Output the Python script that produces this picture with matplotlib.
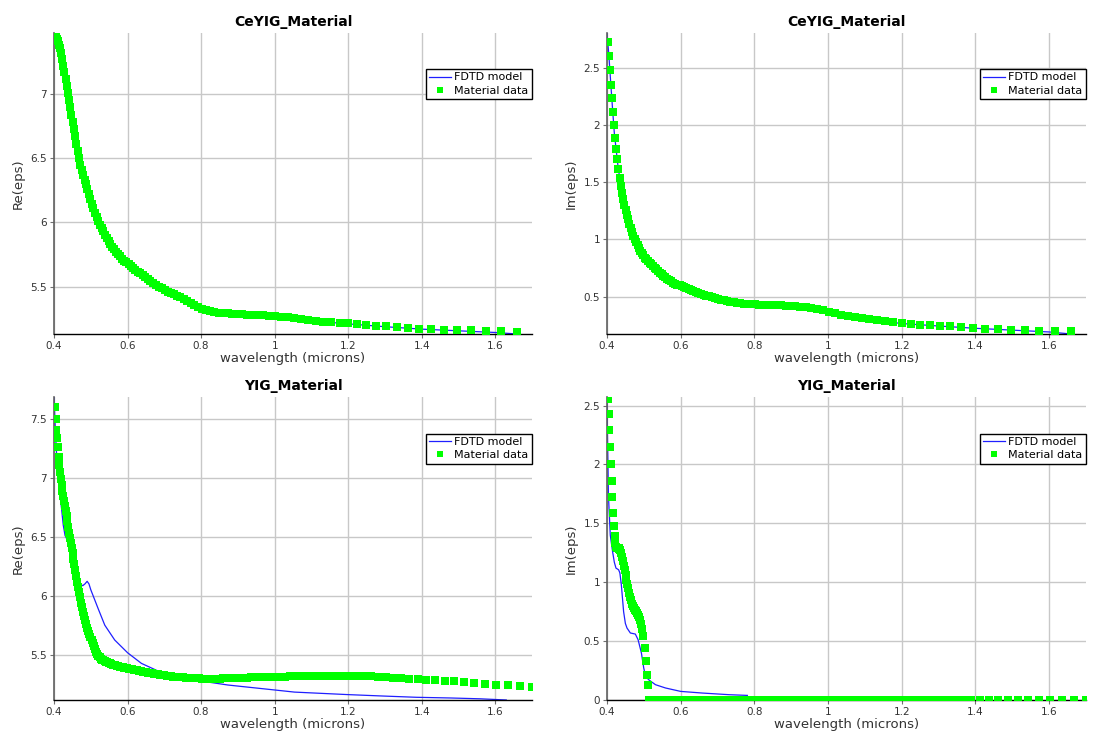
import matplotlib
matplotlib.use("Agg")
import matplotlib.pyplot as plt
from matplotlib.ticker import FuncFormatter

# ---------------- CeYIG material data (wavelength in microns) ----------------
wl_ceyig = [
    0.4027, 0.4054, 0.4081, 0.4108, 0.4137, 0.4165, 0.4194, 0.4223, 0.4253, 0.4283,
    0.4313, 0.4344, 0.4375, 0.4407, 0.4440, 0.4472, 0.4506, 0.4539, 0.4574, 0.4608,
    0.4644, 0.4679, 0.4716, 0.4753, 0.4790, 0.4829, 0.4867, 0.4907, 0.4947, 0.4988,
    0.5029, 0.5071, 0.5114, 0.5157, 0.5202, 0.5247, 0.5292, 0.5339, 0.5387, 0.5435,
    0.5484, 0.5534, 0.5585, 0.5637, 0.5690, 0.5744, 0.5799, 0.5855, 0.5912, 0.5970,
    0.6030, 0.6090, 0.6152, 0.6215, 0.6279, 0.6345, 0.6412, 0.6481, 0.6551, 0.6623,
    0.6696, 0.6770, 0.6847, 0.6925, 0.7005, 0.7087, 0.7171, 0.7257, 0.7345, 0.7435,
    0.7527, 0.7622, 0.7719, 0.7819, 0.7921, 0.8026, 0.8133, 0.8244, 0.8358, 0.8475,
    0.8595, 0.8718, 0.8846, 0.8977, 0.9112, 0.9251, 0.9394, 0.9542, 0.9695, 0.9852,
    1.0015, 1.0183, 1.0357, 1.0537, 1.0724, 1.0917, 1.1117, 1.1325, 1.1541, 1.1765,
    1.1998, 1.2240, 1.2492, 1.2755, 1.3029, 1.3316, 1.3615, 1.3928, 1.4255, 1.4599,
    1.4959, 1.5337, 1.5736, 1.6155, 1.6598,
]
re_ceyig = [
    7.47, 7.45, 7.43, 7.41, 7.38, 7.355, 7.32, 7.27, 7.22, 7.17,
    7.12, 7.065, 7.01, 6.955, 6.895, 6.84, 6.785, 6.73, 6.67, 6.61,
    6.555, 6.50, 6.45, 6.41, 6.37, 6.33, 6.295, 6.257, 6.22, 6.18,
    6.145, 6.11, 6.075, 6.04, 6.01, 5.98, 5.955, 5.93, 5.905, 5.88,
    5.855, 5.83, 5.81, 5.79, 5.77, 5.75, 5.735, 5.715, 5.70, 5.69,
    5.675, 5.66, 5.645, 5.63, 5.615, 5.605, 5.59, 5.575, 5.56, 5.545,
    5.53, 5.515, 5.50, 5.49, 5.475, 5.46, 5.45, 5.44, 5.43, 5.415,
    5.40, 5.385, 5.37, 5.355, 5.34, 5.328, 5.318, 5.31, 5.302, 5.296,
    5.292, 5.29, 5.287, 5.285, 5.283, 5.282, 5.28, 5.279, 5.277, 5.274,
    5.27, 5.266, 5.262, 5.256, 5.248, 5.24, 5.233, 5.227, 5.222, 5.217,
    5.212, 5.207, 5.202, 5.196, 5.19, 5.184, 5.178, 5.172, 5.168, 5.164,
    5.161, 5.158, 5.155, 5.151, 5.148,
]
im_ceyig = [
    2.73, 2.605, 2.48, 2.355, 2.235, 2.115, 2.00, 1.89, 1.795, 1.70,
    1.62, 1.54, 1.47, 1.41, 1.35, 1.30, 1.255, 1.215, 1.175, 1.135,
    1.10, 1.065, 1.03, 1.00, 0.975, 0.95, 0.925, 0.90, 0.88, 0.86,
    0.84, 0.825, 0.81, 0.797, 0.783, 0.768, 0.753, 0.738, 0.723, 0.709,
    0.695, 0.682, 0.669, 0.656, 0.644, 0.632, 0.621, 0.612, 0.604, 0.597,
    0.59, 0.582, 0.574, 0.566, 0.558, 0.55, 0.541, 0.533, 0.524, 0.516,
    0.508, 0.501, 0.494, 0.487, 0.48, 0.473, 0.467, 0.461, 0.455, 0.45,
    0.445, 0.441, 0.438, 0.435, 0.433, 0.431, 0.429, 0.428, 0.427, 0.426,
    0.425, 0.424, 0.421, 0.418, 0.414, 0.41, 0.405, 0.398, 0.389, 0.378,
    0.366, 0.353, 0.342, 0.333, 0.323, 0.313, 0.303, 0.294, 0.284, 0.274,
    0.266, 0.259, 0.254, 0.249, 0.244, 0.238, 0.232, 0.225, 0.22, 0.215,
    0.211, 0.207, 0.202, 0.199, 0.197,
]

# FDTD fit of CeYIG
wl_fit_ceyig = [0.400, 0.405, 0.410, 0.415, 0.420, 0.430, 0.440, 0.450, 0.460, 0.470,
                0.480, 0.490, 0.500, 0.520, 0.540, 0.560, 0.580, 0.600, 0.625, 0.650,
                0.675, 0.700, 0.750, 0.800, 0.850, 0.900, 0.950, 1.000, 1.050, 1.100,
                1.150, 1.200, 1.300, 1.400, 1.500, 1.600, 1.660]
re_fit_ceyig = [7.475, 7.445, 7.42, 7.37, 7.30, 7.14, 6.965, 6.795, 6.625, 6.47,
                6.36, 6.265, 6.17, 6.01, 5.90, 5.805, 5.735, 5.685, 5.62, 5.57,
                5.52, 5.475, 5.405, 5.33, 5.294, 5.284, 5.279, 5.27, 5.255, 5.236,
                5.221, 5.209, 5.187, 5.168, 5.155, 5.142, 5.13]
im_fit_ceyig = [2.806, 2.62, 2.38, 2.15, 1.93, 1.64, 1.415, 1.245, 1.14, 1.04,
                0.968, 0.90, 0.855, 0.783, 0.721, 0.665, 0.621, 0.594, 0.561, 0.531,
                0.503, 0.48, 0.446, 0.431, 0.426, 0.417, 0.399, 0.366, 0.334, 0.308,
                0.283, 0.264, 0.242, 0.222, 0.206, 0.19, 0.172]

# ---------------- YIG material data ----------------
wl_yig = [
    0.4026, 0.4045, 0.4065, 0.4085, 0.4105, 0.4125, 0.4146, 0.4167, 0.4188, 0.4209,
    0.4230, 0.4252, 0.4274, 0.4296, 0.4318, 0.4340, 0.4363, 0.4386, 0.4409, 0.4433,
    0.4456, 0.4480, 0.4505, 0.4529, 0.4554, 0.4579, 0.4604, 0.4630, 0.4655, 0.4682,
    0.4708, 0.4735, 0.4762, 0.4789, 0.4817, 0.4845, 0.4873, 0.4902, 0.4931, 0.4960,
    0.4990, 0.5020, 0.5051, 0.5081, 0.5112, 0.5144, 0.5176, 0.5208, 0.5241, 0.5274,
    0.5308, 0.5342, 0.5376, 0.5411, 0.5447, 0.5482, 0.5519, 0.5556, 0.5593, 0.5631,
    0.5669, 0.5708, 0.5747, 0.5787, 0.5828, 0.5869, 0.5910, 0.5952, 0.5995, 0.6039,
    0.6083, 0.6127, 0.6173, 0.6219, 0.6266, 0.6313, 0.6361, 0.6410, 0.6460, 0.6510,
    0.6562, 0.6614, 0.6667, 0.6720, 0.6775, 0.6831, 0.6887, 0.6944, 0.7003, 0.7062,
    0.7123, 0.7184, 0.7246, 0.7310, 0.7375, 0.7440, 0.7508, 0.7576, 0.7645, 0.7716,
    0.7788, 0.7862, 0.7937, 0.8013, 0.8091, 0.8170, 0.8251, 0.8333, 0.8418, 0.8503,
    0.8591, 0.8681, 0.8772, 0.8865, 0.8961, 0.9058, 0.9158, 0.9259, 0.9363, 0.9470,
    0.9579, 0.9690, 0.9804, 0.9921, 1.0040, 1.0163, 1.0288, 1.0417, 1.0549, 1.0684,
    1.0823, 1.0965, 1.1111, 1.1261, 1.1416, 1.1574, 1.1737, 1.1905, 1.2077, 1.2255,
    1.2438, 1.2626, 1.2821, 1.3021, 1.3228, 1.3441, 1.3661, 1.3889, 1.4124, 1.4368,
    1.4620, 1.4881, 1.5152, 1.5432, 1.5723, 1.6026, 1.6340, 1.6667, 1.7007, 1.7361,
]
re_yig = [
    7.60, 7.50, 7.41, 7.34, 7.26, 7.18, 7.11, 7.05, 6.99, 6.94,
    6.89, 6.845, 6.80, 6.76, 6.72, 6.675, 6.63, 6.58, 6.53, 6.49,
    6.45, 6.405, 6.36, 6.315, 6.27, 6.22, 6.17, 6.12, 6.075, 6.03,
    5.985, 5.94, 5.90, 5.86, 5.825, 5.79, 5.76, 5.73, 5.70, 5.675,
    5.65, 5.625, 5.60, 5.575, 5.55, 5.525, 5.505, 5.49, 5.477, 5.467,
    5.458, 5.451, 5.445, 5.44, 5.435, 5.43, 5.425, 5.42, 5.416, 5.412,
    5.408, 5.404, 5.40, 5.397, 5.394, 5.391, 5.388, 5.386, 5.384, 5.381,
    5.378, 5.375, 5.372, 5.369, 5.366, 5.363, 5.36, 5.356, 5.353, 5.35,
    5.347, 5.344, 5.341, 5.338, 5.335, 5.332, 5.329, 5.326, 5.323, 5.321,
    5.318, 5.316, 5.314, 5.312, 5.31, 5.308, 5.306, 5.304, 5.303, 5.301,
    5.30, 5.299, 5.298, 5.297, 5.296, 5.295, 5.295, 5.295, 5.296, 5.297,
    5.298, 5.299, 5.30, 5.301, 5.302, 5.303, 5.304, 5.305, 5.306, 5.307,
    5.308, 5.309, 5.31, 5.311, 5.312, 5.313, 5.314, 5.315, 5.316, 5.317,
    5.318, 5.319, 5.32, 5.321, 5.322, 5.322, 5.322, 5.322, 5.321, 5.32,
    5.318, 5.316, 5.313, 5.309, 5.305, 5.301, 5.297, 5.292, 5.288, 5.283,
    5.278, 5.272, 5.266, 5.26, 5.252, 5.246, 5.24, 5.232, 5.222, 5.21,
]
im_yig = [
    2.56, 2.43, 2.29, 2.15, 2.00, 1.86, 1.72, 1.59, 1.48, 1.39,
    1.33, 1.30, 1.295, 1.29, 1.287, 1.28, 1.27, 1.245, 1.215, 1.18,
    1.14, 1.10, 1.06, 1.02, 0.985, 0.95, 0.91, 0.875, 0.845, 0.815,
    0.795, 0.778, 0.765, 0.752, 0.74, 0.725, 0.705, 0.68, 0.645, 0.60,
    0.54, 0.44, 0.33, 0.21, 0.13,
    0, 0, 0, 0, 0, 0, 0, 0, 0, 0, 0, 0, 0, 0, 0, 0, 0, 0, 0, 0, 0, 0, 0,
    0, 0, 0, 0, 0, 0, 0, 0, 0, 0, 0, 0, 0, 0, 0, 0, 0, 0, 0, 0, 0, 0, 0,
    0, 0, 0, 0, 0, 0, 0, 0, 0, 0, 0, 0, 0, 0, 0, 0, 0, 0, 0, 0, 0, 0, 0,
    0, 0, 0, 0, 0, 0, 0, 0, 0, 0, 0, 0, 0, 0, 0, 0, 0, 0, 0, 0, 0, 0, 0,
    0, 0, 0, 0, 0, 0, 0, 0, 0, 0, 0, 0, 0, 0, 0, 0, 0, 0, 0, 0, 0, 0, 0,
]

# FDTD fit of YIG
wl_fit_yig_re = [0.400, 0.403, 0.406, 0.410, 0.415, 0.420, 0.425, 0.430, 0.435, 0.440,
                 0.450, 0.460, 0.470, 0.478, 0.484, 0.490, 0.495, 0.500, 0.510, 0.520,
                 0.538, 0.565, 0.600, 0.6375, 0.687, 0.737, 0.800, 0.873, 1.000, 1.054,
                 1.197, 1.300, 1.385, 1.479, 1.560, 1.630]
re_fit_yig = [7.684, 7.45, 7.25, 7.05, 6.88, 6.75, 6.60, 6.51, 6.48, 6.43,
              6.33, 6.20, 6.10, 6.085, 6.10, 6.122, 6.10, 6.05, 5.97, 5.89,
              5.75, 5.624, 5.516, 5.426, 5.355, 5.313, 5.276, 5.242, 5.200, 5.182,
              5.161, 5.148, 5.138, 5.132, 5.125, 5.115]
wl_fit_yig_im = [0.400, 0.4016, 0.404, 0.409, 0.4153, 0.420, 0.4245, 0.4316, 0.435, 0.439,
                 0.4452, 0.450, 0.4544, 0.4635, 0.477, 0.4845, 0.4935, 0.4998, 0.505, 0.5133,
                 0.5316, 0.5589, 0.600, 0.6589, 0.7314, 0.781]
im_fit_yig = [2.571, 2.22, 1.74, 1.40, 1.26, 1.17, 1.12, 1.106, 1.08, 0.98,
              0.75, 0.65, 0.611, 0.569, 0.56, 0.512, 0.399, 0.272, 0.20, 0.172,
              0.13, 0.102, 0.073, 0.059, 0.045, 0.039]

x_ticks = [0.4, 0.6, 0.8, 1.0, 1.2, 1.4, 1.6]


def plot_eps(ax, title, ylabel, wl_fit, fit, wl_data, data, yticks):
    ax.plot(wl_fit, fit, color="#1f1fff", lw=0.9, label="FDTD model", zorder=2)
    ax.plot(wl_data, data, "s", color="#00ff00", ms=5.8, mew=0,
            label="Material data", zorder=3)
    ax.set_xlim(0.4, 1.7)
    ax.margins(x=0, y=0)
    ax.set_xticks(x_ticks)
    ax.set_yticks(yticks)
    fmt = FuncFormatter(lambda v, p: "%g" % v)
    ax.xaxis.set_major_formatter(fmt)
    ax.yaxis.set_major_formatter(fmt)
    ax.grid(True, color="#c8c8c8", lw=1)
    ax.set_axisbelow(True)
    for s in ("top", "right"):
        ax.spines[s].set_visible(False)
    ax.spines["left"].set_color("#606060")
    ax.spines["left"].set_linewidth(1.2)
    ax.spines["bottom"].set_color("black")
    ax.spines["bottom"].set_linewidth(1.0)
    ax.tick_params(labelsize=7.5, labelcolor="#333333", color="#707070",
                   length=3, width=0.8, pad=2)
    ax.set_title(title, fontsize=10, fontweight="bold", pad=5)
    ax.set_xlabel("wavelength (microns)", fontsize=9.5, color="#333333", labelpad=1)
    ax.set_ylabel(ylabel, fontsize=9.5, color="#333333", labelpad=4)
    leg = ax.legend(loc="upper right", bbox_to_anchor=(1.0, 0.88), fontsize=8,
                    frameon=True, fancybox=False, edgecolor="black", framealpha=1,
                    borderpad=0.3, handlelength=2.0, handletextpad=0.3,
                    labelspacing=0.3, borderaxespad=0, numpoints=1,
                    markerscale=0.85)
    leg.get_frame().set_linewidth(1.0)


fig = plt.figure(figsize=(10.94, 7.38), dpi=100)
ax1 = fig.add_axes([0.0494, 0.5474, 0.4369, 0.4079])
ax2 = fig.add_axes([0.5548, 0.5474, 0.4379, 0.4079])
ax3 = fig.add_axes([0.0494, 0.0515, 0.4369, 0.4102])
ax4 = fig.add_axes([0.5548, 0.0515, 0.4379, 0.4102])

plot_eps(ax1, "CeYIG_Material", "Re(eps)", wl_fit_ceyig, re_fit_ceyig,
         wl_ceyig, re_ceyig, [5.5, 6, 6.5, 7])
plot_eps(ax2, "CeYIG_Material", "Im(eps)", wl_fit_ceyig, im_fit_ceyig,
         wl_ceyig, im_ceyig, [0.5, 1, 1.5, 2, 2.5])
plot_eps(ax3, "YIG_Material", "Re(eps)", wl_fit_yig_re, re_fit_yig,
         wl_yig, re_yig, [5.5, 6, 6.5, 7, 7.5])
plot_eps(ax4, "YIG_Material", "Im(eps)", wl_fit_yig_im, im_fit_yig,
         wl_yig, im_yig, [0, 0.5, 1, 1.5, 2, 2.5])

fig.savefig("out.png", dpi=100)
